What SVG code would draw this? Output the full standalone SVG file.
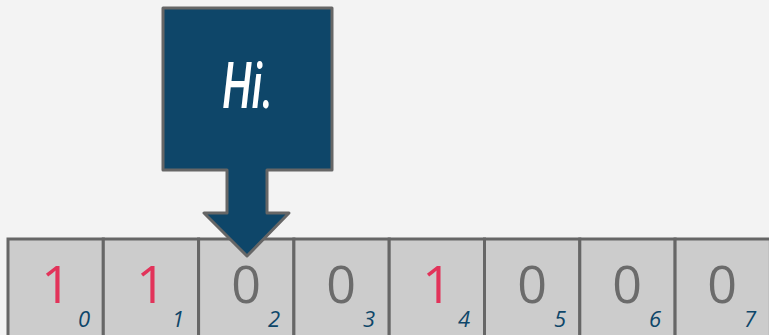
<svg xmlns="http://www.w3.org/2000/svg" width="769" height="335" viewBox="0 0 769 335">
<style>
.cell{fill:#cccccc;stroke:#666666;stroke-width:3}
.bit{font-family:"Open Sans","Noto Sans",sans-serif;font-size:52px;text-anchor:middle}
.one{fill:#e2335a}
.zero{fill:#6b6b6b}
.idx{font-family:"Open Sans","Noto Sans",sans-serif;font-style:italic;font-size:22px;fill:#0e4669;text-anchor:end}
</style>
<rect width="769" height="335" fill="#f3f3f3"/>
<g id="cells">
<g id="c0"><rect class="cell" x="8" y="239" width="95.3" height="100"/><text class="bit one" x="56" y="303">1</text><text class="idx" x="90" y="327">0</text></g>
<g id="c1"><rect class="cell" x="103.3" y="239" width="95.3" height="100"/><text class="bit one" x="151" y="303">1</text><text class="idx" x="184" y="327">1</text></g>
<g id="c2"><rect class="cell" x="198.6" y="239" width="95.3" height="100"/><text class="bit zero" x="246" y="303">0</text><text class="idx" x="280" y="327">2</text></g>
<g id="c3"><rect class="cell" x="293.9" y="239" width="95.3" height="100"/><text class="bit zero" x="341" y="303">0</text><text class="idx" x="375" y="327">3</text></g>
<g id="c4"><rect class="cell" x="389.2" y="239" width="95.3" height="100"/><text class="bit one" x="437" y="303">1</text><text class="idx" x="470" y="327">4</text></g>
<g id="c5"><rect class="cell" x="484.5" y="239" width="95.3" height="100"/><text class="bit zero" x="532" y="303">0</text><text class="idx" x="566" y="327">5</text></g>
<g id="c6"><rect class="cell" x="579.8" y="239" width="95.3" height="100"/><text class="bit zero" x="627" y="303">0</text><text class="idx" x="661" y="327">6</text></g>
<g id="c7"><rect class="cell" x="675.1" y="239" width="95.3" height="100"/><text class="bit zero" x="722" y="303">0</text><text class="idx" x="756" y="327">7</text></g>
</g>
<g id="pointer">
<path d="M163,8 H332 V170 H267 V213 H289 L247,256 L204,213 H227 V170 H163 Z" fill="#0e4669" stroke="#666666" stroke-width="3" stroke-linejoin="round"/>
<text x="248" y="108" font-family="Roboto,'Open Sans',sans-serif" font-style="italic" font-weight="500" font-size="64" fill="#ffffff" text-anchor="middle" textLength="51" lengthAdjust="spacingAndGlyphs">Hi.</text>
</g>
</svg>
